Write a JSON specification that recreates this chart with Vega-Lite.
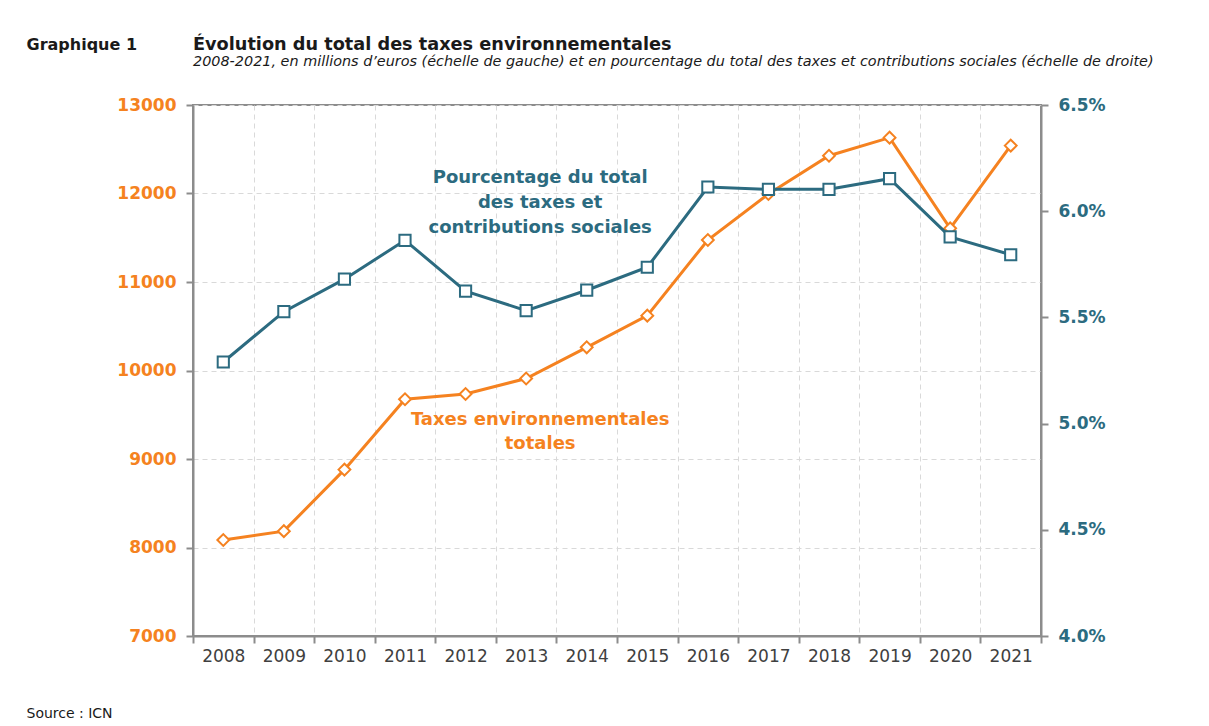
{
  "$schema": "https://vega.github.io/schema/vega-lite/v6.json",
  "width": 848,
  "height": 531,
  "autosize": {"type": "none"},
  "padding": {"left": 193, "top": 105, "right": 168, "bottom": 90},
  "background": "white",
  "config": {
    "view": {"stroke": "#8c8c8c", "strokeWidth": 2},
    "font": "DejaVu Sans"
  },
  "title": {
    "text": "Évolution du total des taxes environnementales",
    "subtitle": "2008-2021, en millions d’euros (échelle de gauche) et en pourcentage du total des taxes et contributions sociales (échelle de droite)",
    "anchor": "start",
    "frame": "group",
    "font": "DejaVu Sans",
    "fontSize": 17.7,
    "fontWeight": "bold",
    "color": "#1a1a1a",
    "subtitleFont": "DejaVu Sans",
    "subtitleFontSize": 14.4,
    "subtitleFontStyle": "italic",
    "subtitleColor": "#1a1a1a",
    "subtitlePadding": 1,
    "offset": -32
  },
  "datasets": {
    "main": [
      {"year": 2008, "taxes": 8085, "pct": 5.29},
      {"year": 2009, "taxes": 8185, "pct": 5.527},
      {"year": 2010, "taxes": 8880, "pct": 5.68},
      {"year": 2011, "taxes": 9675, "pct": 5.863},
      {"year": 2012, "taxes": 9734, "pct": 5.624},
      {"year": 2013, "taxes": 9910, "pct": 5.532},
      {"year": 2014, "taxes": 10262, "pct": 5.628},
      {"year": 2015, "taxes": 10620, "pct": 5.736},
      {"year": 2016, "taxes": 11475, "pct": 6.114},
      {"year": 2017, "taxes": 11994, "pct": 6.103},
      {"year": 2018, "taxes": 12427, "pct": 6.103},
      {"year": 2019, "taxes": 12631, "pct": 6.153},
      {"year": 2020, "taxes": 11606, "pct": 5.879},
      {"year": 2021, "taxes": 12541, "pct": 5.795}
    ],
    "lblTax": [
      {"year": 2013, "value": 9441, "text": "Taxes environnementales\ntotales"}
    ],
    "lblPct": [
      {"year": 2013, "value": 6.156, "text": "Pourcentage du total\ndes taxes et\ncontributions sociales"}
    ]
  },
  "encoding": {
    "x": {
      "field": "year",
      "type": "ordinal",
      "scale": {"paddingInner": 0, "paddingOuter": 0},
      "axis": {
        "orient": "bottom",
        "domain": true,
        "domainColor": "#8c8c8c",
        "domainWidth": 2,
        "ticks": true,
        "tickBand": "extent",
        "tickSize": 7,
        "tickColor": "#8c8c8c",
        "tickWidth": 2,
        "grid": true,
        "gridDash": [5, 4],
        "gridColor": "#d9d9d9",
        "gridWidth": 1,
        "labelAngle": 0,
        "labelFont": "DejaVu Sans",
        "labelFontSize": 17,
        "labelColor": "#404040",
        "labelPadding": 5,
        "title": "Source : ICN",
        "titleX": -167,
        "titleY": 81,
        "titleAlign": "left",
        "titleBaseline": "alphabetic",
        "titleFont": "DejaVu Sans",
        "titleFontSize": 14,
        "titleFontWeight": "normal",
        "titleColor": "#1a1a1a"
      }
    }
  },
  "layer": [
    {
      "encoding": {
        "y": {
          "field": "taxes",
          "type": "quantitative",
          "scale": {"domain": [7000, 13000], "nice": false, "zero": false},
          "axis": {
            "orient": "left",
            "values": [7000, 8000, 9000, 10000, 11000, 12000, 13000],
            "format": "d",
            "grid": true,
            "gridDash": [5, 4],
            "gridColor": "#d9d9d9",
            "domain": true,
            "domainColor": "#8c8c8c",
            "domainWidth": 2,
            "ticks": true,
            "tickSize": 7,
            "tickColor": "#8c8c8c",
            "tickWidth": 2,
            "labelFont": "DejaVu Sans",
            "labelFontSize": 17,
            "labelFontWeight": "bold",
            "labelColor": "#F58220",
            "labelPadding": 10,
            "title": "Graphique 1",
            "titleAngle": 0,
            "titleX": -167,
            "titleY": -56,
            "titleAlign": "left",
            "titleBaseline": "alphabetic",
            "titleFont": "DejaVu Sans",
            "titleFontSize": 16,
            "titleFontWeight": "bold",
            "titleColor": "#1a1a1a"
          }
        }
      },
      "layer": [
        {
          "data": {"name": "main"},
          "mark": {"type": "line", "color": "#F58220", "strokeWidth": 3},
          "encoding": {}
        },
        {
          "data": {"name": "main"},
          "mark": {"type": "point", "shape": "diamond", "size": 140, "filled": true, "fill": "white", "stroke": "#F58220", "strokeWidth": 2, "opacity": 1},
          "encoding": {}
        },
        {
          "data": {"name": "lblTax"},
          "mark": {"type": "text", "color": "#F58220", "font": "DejaVu Sans", "fontSize": 18, "fontWeight": "bold", "lineBreak": "\n", "lineHeight": 24, "align": "center", "baseline": "middle", "dx": 14},
          "encoding": {
            "y": {"field": "value", "type": "quantitative"},
            "text": {"field": "text"}
          }
        }
      ]
    },
    {
      "encoding": {
        "y": {
          "field": "pct",
          "type": "quantitative",
          "scale": {"domain": [4, 6.5], "nice": false, "zero": false},
          "axis": {
            "orient": "right",
            "values": [4, 4.5, 5, 5.5, 6, 6.5],
            "labelExpr": "format(datum.value, '.1f') + '%'",
            "grid": false,
            "domain": true,
            "domainColor": "#8c8c8c",
            "domainWidth": 2,
            "ticks": true,
            "tickSize": 7,
            "tickColor": "#8c8c8c",
            "tickWidth": 2,
            "labelFont": "DejaVu Sans",
            "labelFontSize": 17,
            "labelFontWeight": "bold",
            "labelColor": "#2C6B80",
            "labelPadding": 10,
            "title": null
          }
        }
      },
      "layer": [
        {
          "data": {"name": "main"},
          "mark": {"type": "line", "color": "#2C6B80", "strokeWidth": 3},
          "encoding": {}
        },
        {
          "data": {"name": "main"},
          "mark": {"type": "point", "shape": "square", "size": 125, "filled": true, "fill": "white", "stroke": "#2C6B80", "strokeWidth": 2, "opacity": 1},
          "encoding": {}
        },
        {
          "data": {"name": "lblPct"},
          "mark": {"type": "text", "color": "#2C6B80", "font": "DejaVu Sans", "fontSize": 18, "fontWeight": "bold", "lineBreak": "\n", "lineHeight": 25, "align": "center", "baseline": "middle", "dx": 14},
          "encoding": {
            "y": {"field": "value", "type": "quantitative"},
            "text": {"field": "text"}
          }
        }
      ]
    }
  ],
  "resolve": {"scale": {"y": "independent"}}
}
